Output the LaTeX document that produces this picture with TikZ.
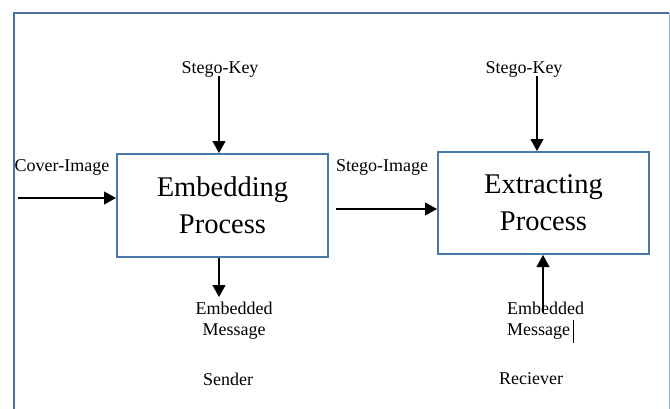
\documentclass[tikz,border=0pt]{standalone}
\usepackage{fontspec}
\setmainfont{Liberation Serif}
\usetikzlibrary{arrows.meta}
\definecolor{frameblue}{HTML}{4A6F9A}
\definecolor{frameright}{HTML}{9DB3CC}
\definecolor{boxblue}{HTML}{4A78AA}
\tikzset{
  x=1pt,y=-1pt,
  lbl/.style={inner sep=0pt,font=\fontsize{18}{21}\selectfont},
  procbox/.style={draw=boxblue,line width=2pt,minimum width=211pt,minimum height=103pt,align=center,inner sep=0pt,font=\fontsize{28.5}{37}\selectfont},
  arr/.style={line width=1.1pt,-{Triangle[width=13pt,length=12pt]}},
}
\begin{document}
\begin{tikzpicture}
\useasboundingbox (0,0) rectangle (670,408);
% outer frame
\draw[frameblue,line width=2.2pt] (14,420) -- (14,13) -- (669,13);
\draw[frameright,line width=1pt] (669,13) -- (669,420);
% process boxes
\node[procbox] (emb) at (222.5,205.5) {Embedding\\Process};
\node[procbox,minimum height=102pt] (ext) at (543.5,203) {Extracting\\Process};
% labels
\node[lbl] (sk1) at (220,69) {Stego-Key};
\node[lbl] (sk2) at (524,69) {Stego-Key};
\node[lbl] (cov) at (62,167) {Cover-Image};
\node[lbl] (sti) at (382,167) {Stego-Image};
\node[lbl,align=center] (em1) at (234,321) {Embedded\\ Message};
\node[lbl,align=left,anchor=west] (em2) at (507,321) {Embedded\\Message};
\node[lbl] (snd) at (228,379) {Sender};
\node[lbl] (rcv) at (531,379) {Reciever};
% connectors
\coordinate (c1) at (18,198);
\coordinate (c2) at (336,209);
\coordinate (k1) at (219,76);
\coordinate (k2) at (537,76);
\coordinate (m1) at (219,297);
\coordinate (m2) at (543,312);
\draw[arr] (c1) -- (c1 -| emb.west);
\draw[arr] (c2) -- (c2 -| ext.west);
\draw[arr] (k1) -- (k1 |- emb.north);
\draw[arr] (k2) -- (k2 |- ext.north);
\draw[arr] (m1 |- emb.south) -- (m1);
\draw[arr] (m2) -- (m2 |- ext.south);
% text cursor
\coordinate (cur) at (573,320);
\draw[line width=0.8pt] (cur) -- ++(0,23);
\end{tikzpicture}
\end{document}
